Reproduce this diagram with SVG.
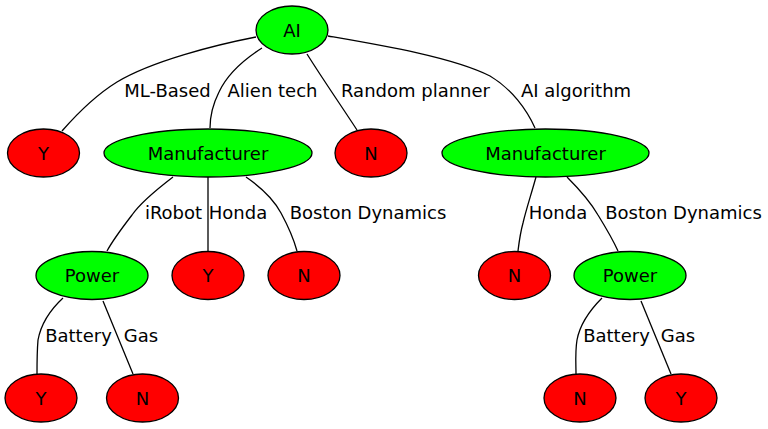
<svg xmlns="http://www.w3.org/2000/svg" width="768" height="429" viewBox="0 0 768 429">
<style>
text{font-family:"DejaVu Sans","Liberation Sans",sans-serif;font-size:18px;fill:#000;text-anchor:middle}
.yes{fill:#00ff00;stroke:#000;stroke-width:1.3}
.no{fill:#ff0000;stroke:#000;stroke-width:1.3}
#edges path{fill:none;stroke:#000;stroke-width:1.3}
</style>
<rect width="768" height="429" fill="#fff"/>
<g id="edges">
<path d="M256,37 C215,45 152,61 117,82 C96,95 76,115 62,131"/>
<path d="M262,48 C240,62 226,77 219,92 C213,104 210,118 210,128"/>
<path d="M307,54 C322,78 342,107 357,130"/>
<path d="M328,36 C380,45 452,57 490,76 C512,89 527,110 535,128"/>
<path d="M173,177 C156,190 141,202 132,215 C122,228 113,240 107,251"/>
<path d="M208,177 L208,251"/>
<path d="M246,177 C262,188 274,200 281,213 C288,226 294,240 297,251"/>
<path d="M536,177 C531,195 526,210 523,223 C520,234 519,243 518,251"/>
<path d="M567,177 C580,190 591,203 598,215 C606,228 613,240 618,251"/>
<path d="M63,298 C50,310 41,324 38,340 C37,352 37,365 37,374"/>
<path d="M103,301 C113,325 123,350 133,374"/>
<path d="M602,298 C590,310 580,324 577,340 C575,352 576,365 576,374"/>
<path d="M641,301 C651,325 661,350 671,374"/>
<text x="167.5" y="97">ML-Based</text>
<text x="272.5" y="97">Alien tech</text>
<text x="415.5" y="97">Random planner</text>
<text x="576" y="97">AI algorithm</text>
<text x="173.5" y="219">iRobot</text>
<text x="238" y="219">Honda</text>
<text x="368" y="219">Boston Dynamics</text>
<text x="558" y="219">Honda</text>
<text x="683.5" y="219">Boston Dynamics</text>
<text x="78.5" y="342">Battery</text>
<text x="141" y="342">Gas</text>
<text x="616.5" y="342">Battery</text>
<text x="678" y="342">Gas</text>
</g>
<g id="ai"><ellipse class="yes" cx="292" cy="30" rx="36" ry="24"/><text x="292" y="36.5">AI</text></g>
<g id="y1"><ellipse class="no" cx="43.5" cy="153" rx="36" ry="24"/><text x="43.5" y="159.5">Y</text></g>
<g id="manu1"><ellipse class="yes" cx="208" cy="153" rx="104" ry="24"/><text x="208" y="159.5">Manufacturer</text></g>
<g id="n1"><ellipse class="no" cx="371" cy="153" rx="36" ry="24"/><text x="371" y="159.5">N</text></g>
<g id="manu2"><ellipse class="yes" cx="545.5" cy="153" rx="103.5" ry="24"/><text x="545.5" y="159.5">Manufacturer</text></g>
<g id="power1"><ellipse class="yes" cx="92" cy="275.5" rx="56" ry="24"/><text x="92" y="282">Power</text></g>
<g id="y2"><ellipse class="no" cx="208" cy="275.5" rx="36" ry="24"/><text x="208" y="282">Y</text></g>
<g id="n2"><ellipse class="no" cx="304" cy="275.5" rx="36" ry="24"/><text x="304" y="282">N</text></g>
<g id="n3"><ellipse class="no" cx="514.5" cy="275.5" rx="36" ry="24"/><text x="514.5" y="282">N</text></g>
<g id="power2"><ellipse class="yes" cx="630" cy="275.5" rx="56" ry="24"/><text x="630" y="282">Power</text></g>
<g id="y3"><ellipse class="no" cx="41" cy="398" rx="36" ry="24"/><text x="41" y="404.5">Y</text></g>
<g id="n4"><ellipse class="no" cx="142.5" cy="398" rx="36" ry="24"/><text x="142.5" y="404.5">N</text></g>
<g id="n5"><ellipse class="no" cx="580" cy="398" rx="36" ry="24"/><text x="580" y="404.5">N</text></g>
<g id="y4"><ellipse class="no" cx="681" cy="398" rx="36" ry="24"/><text x="681" y="404.5">Y</text></g>
</svg>
